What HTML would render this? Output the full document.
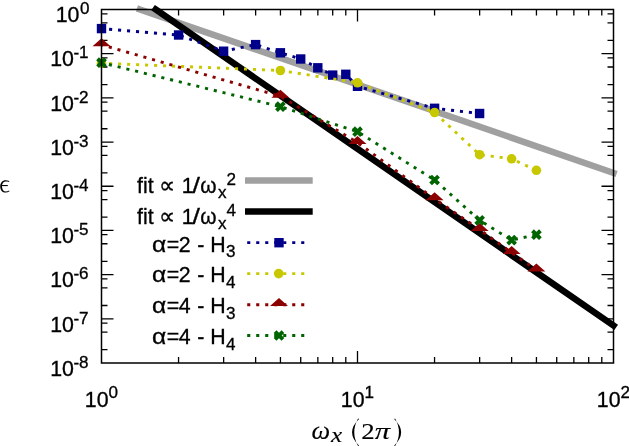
<!DOCTYPE html>
<html><head><meta charset="utf-8"><title>chart</title>
<style>html,body{margin:0;padding:0;background:#fff;}body{width:629px;height:446px;overflow:hidden;}svg{display:block;will-change:transform;}text{font-family:"Liberation Sans",sans-serif;fill:#000;stroke:#000;stroke-width:0.32px;}.s{font-family:"Liberation Serif",serif;stroke-width:0.12px;}.i{font-style:italic;}</style>
</head><body>
<svg width="629" height="446" viewBox="0 0 629 446">
<rect width="629" height="446" fill="#fff"/>
<path d="M101.50 40.39h6M613.50 40.39h-6M101.50 22.80h6M613.50 22.80h-6M101.50 13.78h6M613.50 13.78h-6M101.50 53.69h12M613.50 53.69h-12M101.50 84.57h6M613.50 84.57h-6M101.50 66.99h6M613.50 66.99h-6M101.50 57.97h6M613.50 57.97h-6M101.50 97.88h12M613.50 97.88h-12M101.50 128.76h6M613.50 128.76h-6M101.50 111.18h6M613.50 111.18h-6M101.50 102.16h6M613.50 102.16h-6M101.50 142.06h12M613.50 142.06h-12M101.50 172.95h6M613.50 172.95h-6M101.50 155.36h6M613.50 155.36h-6M101.50 146.34h6M613.50 146.34h-6M101.50 186.25h12M613.50 186.25h-12M101.50 217.14h6M613.50 217.14h-6M101.50 199.55h6M613.50 199.55h-6M101.50 190.53h6M613.50 190.53h-6M101.50 230.44h12M613.50 230.44h-12M101.50 261.32h6M613.50 261.32h-6M101.50 243.74h6M613.50 243.74h-6M101.50 234.72h6M613.50 234.72h-6M101.50 274.62h12M613.50 274.62h-12M101.50 305.51h6M613.50 305.51h-6M101.50 287.93h6M613.50 287.93h-6M101.50 278.91h6M613.50 278.91h-6M101.50 318.81h12M613.50 318.81h-12M101.50 349.70h6M613.50 349.70h-6M101.50 332.11h6M613.50 332.11h-6M101.50 323.09h6M613.50 323.09h-6M178.56 363.00v-6M178.56 9.50v6M223.64 363.00v-6M223.64 9.50v6M255.63 363.00v-6M255.63 9.50v6M280.44 363.00v-6M280.44 9.50v6M300.71 363.00v-6M300.71 9.50v6M317.85 363.00v-6M317.85 9.50v6M332.69 363.00v-6M332.69 9.50v6M345.79 363.00v-6M345.79 9.50v6M357.50 363.00v-12M357.50 9.50v12M434.56 363.00v-6M434.56 9.50v6M479.64 363.00v-6M479.64 9.50v6M511.63 363.00v-6M511.63 9.50v6M536.44 363.00v-6M536.44 9.50v6M556.71 363.00v-6M556.71 9.50v6M573.85 363.00v-6M573.85 9.50v6M588.69 363.00v-6M588.69 9.50v6M601.79 363.00v-6M601.79 9.50v6" stroke="#000" stroke-width="1.3" fill="none"/>
<line x1="140" y1="9.5" x2="613.5" y2="172.9" stroke="#a0a0a0" stroke-width="6.5" stroke-linecap="square"/>
<line x1="155.7" y1="9.5" x2="613.5" y2="325.5" stroke="#000" stroke-width="6.5" stroke-linecap="square"/>
<polyline points="101.5,28.6 178.6,35.0 223.6,51.2 255.6,44.6 280.4,52.8 300.7,59.0 317.8,67.8 332.7,75.1 345.8,74.3 357.5,86.3 434.6,108.3 479.6,113.5" fill="none" stroke="#00008b" stroke-width="2.9" stroke-dasharray="3.1 5.9" stroke-dashoffset="1.4"/>
<rect x="96.8" y="23.9" width="9.4" height="9.4" fill="#00008b"/>
<rect x="173.9" y="30.3" width="9.4" height="9.4" fill="#00008b"/>
<rect x="218.9" y="46.5" width="9.4" height="9.4" fill="#00008b"/>
<rect x="250.9" y="39.9" width="9.4" height="9.4" fill="#00008b"/>
<rect x="275.7" y="48.1" width="9.4" height="9.4" fill="#00008b"/>
<rect x="296.0" y="54.3" width="9.4" height="9.4" fill="#00008b"/>
<rect x="313.1" y="63.1" width="9.4" height="9.4" fill="#00008b"/>
<rect x="328.0" y="70.4" width="9.4" height="9.4" fill="#00008b"/>
<rect x="341.1" y="69.6" width="9.4" height="9.4" fill="#00008b"/>
<rect x="352.8" y="81.6" width="9.4" height="9.4" fill="#00008b"/>
<rect x="429.9" y="103.6" width="9.4" height="9.4" fill="#00008b"/>
<rect x="474.9" y="108.8" width="9.4" height="9.4" fill="#00008b"/>
<polyline points="101.5,63.2 280.4,70.5 357.5,82.8 434.6,112.5 479.6,154.7 511.6,158.8 536.4,170.3" fill="none" stroke="#c8c800" stroke-width="2.9" stroke-dasharray="3.1 5.9" stroke-dashoffset="1.4"/>
<circle cx="101.5" cy="63.2" r="4.8" fill="#c8c800"/>
<circle cx="280.4" cy="70.5" r="4.8" fill="#c8c800"/>
<circle cx="357.5" cy="82.8" r="4.8" fill="#c8c800"/>
<circle cx="434.6" cy="112.5" r="4.8" fill="#c8c800"/>
<circle cx="479.6" cy="154.7" r="4.8" fill="#c8c800"/>
<circle cx="511.6" cy="158.8" r="4.8" fill="#c8c800"/>
<circle cx="536.4" cy="170.3" r="4.8" fill="#c8c800"/>
<polyline points="101.5,44.8 280.4,96.3 357.5,142.6 434.6,198.9 479.6,229.6 511.6,252.6 536.4,270.1" fill="none" stroke="#8b0000" stroke-width="2.9" stroke-dasharray="3.1 5.9" stroke-dashoffset="1.4"/>
<path d="M101.5 38.2L110.5 46.2L92.5 46.2Z" fill="#8b0000"/>
<path d="M280.4 89.7L289.4 97.7L271.4 97.7Z" fill="#8b0000"/>
<path d="M357.5 136.0L366.5 144.0L348.5 144.0Z" fill="#8b0000"/>
<path d="M434.6 192.3L443.6 200.3L425.6 200.3Z" fill="#8b0000"/>
<path d="M479.6 223.0L488.6 231.0L470.6 231.0Z" fill="#8b0000"/>
<path d="M511.6 246.0L520.6 254.0L502.6 254.0Z" fill="#8b0000"/>
<path d="M536.4 263.5L545.4 271.5L527.4 271.5Z" fill="#8b0000"/>
<polyline points="101.5,62.7 280.4,106.6 357.5,131.7 434.6,180.0 479.6,220.3 511.6,240.1 536.4,234.7" fill="none" stroke="#006400" stroke-width="2.9" stroke-dasharray="3.1 5.9" stroke-dashoffset="1.4"/>
<path d="M97.55 58.75l7.9 7.9M105.45 58.75l-7.9 7.9" stroke="#006400" stroke-width="3.9" fill="none"/>
<path d="M276.49 102.65l7.9 7.9M284.39 102.65l-7.9 7.9" stroke="#006400" stroke-width="3.9" fill="none"/>
<path d="M353.55 127.75l7.9 7.9M361.45 127.75l-7.9 7.9" stroke="#006400" stroke-width="3.9" fill="none"/>
<path d="M430.61 176.05l7.9 7.9M438.51 176.05l-7.9 7.9" stroke="#006400" stroke-width="3.9" fill="none"/>
<path d="M475.69 216.35l7.9 7.9M483.59 216.35l-7.9 7.9" stroke="#006400" stroke-width="3.9" fill="none"/>
<path d="M507.68 236.15l7.9 7.9M515.58 236.15l-7.9 7.9" stroke="#006400" stroke-width="3.9" fill="none"/>
<path d="M532.49 230.75l7.9 7.9M540.39 230.75l-7.9 7.9" stroke="#006400" stroke-width="3.9" fill="none"/>
<line x1="245" y1="180.6" x2="312.7" y2="180.6" stroke="#a0a0a0" stroke-width="6.5"/>
<line x1="245" y1="211.55" x2="312.7" y2="211.55" stroke="#000" stroke-width="6.5"/>
<line x1="247.2" y1="242.65" x2="304.5" y2="242.65" stroke="#00008b" stroke-width="2.9" stroke-dasharray="3.1 5.9"/>
<rect x="274.3" y="238.0" width="9.4" height="9.4" fill="#00008b"/>
<line x1="247.2" y1="273.6" x2="304.5" y2="273.6" stroke="#c8c800" stroke-width="2.9" stroke-dasharray="3.1 5.9"/>
<circle cx="278.7" cy="273.6" r="4.8" fill="#c8c800"/>
<line x1="247.2" y1="304.7" x2="304.5" y2="304.7" stroke="#8b0000" stroke-width="2.9" stroke-dasharray="3.1 5.9"/>
<path d="M279.0 298.1L288.0 306.1L270.0 306.1Z" fill="#8b0000"/>
<line x1="247.2" y1="335.5" x2="304.5" y2="335.5" stroke="#006400" stroke-width="2.9" stroke-dasharray="3.1 5.9"/>
<path d="M275.05 331.55l7.9 7.9M282.95 331.55l-7.9 7.9" stroke="#006400" stroke-width="3.9" fill="none"/>
<rect x="101.5" y="9.5" width="512" height="353.5" fill="none" stroke="#000" stroke-width="1.5"/>
<text x="55.71" y="22.20" font-size="21.33">10</text>
<text x="79.93" y="14.20" font-size="17.07">0</text>
<text x="50.21" y="66.39" font-size="21.33">10</text>
<text x="73.54" y="58.39" font-size="17.07">-</text>
<text x="78.94" y="58.39" font-size="17.07">1</text>
<text x="50.21" y="110.58" font-size="21.33">10</text>
<text x="73.54" y="102.58" font-size="17.07">-</text>
<text x="78.94" y="102.58" font-size="17.07">2</text>
<text x="50.21" y="154.76" font-size="21.33">10</text>
<text x="73.54" y="146.76" font-size="17.07">-</text>
<text x="78.94" y="146.76" font-size="17.07">3</text>
<text x="50.21" y="198.95" font-size="21.33">10</text>
<text x="73.54" y="190.95" font-size="17.07">-</text>
<text x="78.94" y="190.95" font-size="17.07">4</text>
<text x="50.21" y="243.14" font-size="21.33">10</text>
<text x="73.54" y="235.14" font-size="17.07">-</text>
<text x="78.94" y="235.14" font-size="17.07">5</text>
<text x="50.21" y="287.32" font-size="21.33">10</text>
<text x="73.54" y="279.32" font-size="17.07">-</text>
<text x="78.94" y="279.32" font-size="17.07">6</text>
<text x="50.21" y="331.51" font-size="21.33">10</text>
<text x="73.54" y="323.51" font-size="17.07">-</text>
<text x="78.94" y="323.51" font-size="17.07">7</text>
<text x="50.21" y="375.70" font-size="21.33">10</text>
<text x="73.54" y="367.70" font-size="17.07">-</text>
<text x="78.94" y="367.70" font-size="17.07">8</text>
<text x="84.83" y="406.50" font-size="21.33">10</text>
<text x="108.39" y="398.20" font-size="17.07">0</text>
<text x="340.83" y="406.50" font-size="21.33">10</text>
<text x="364.39" y="398.20" font-size="17.07">1</text>
<text x="596.83" y="406.50" font-size="21.33">10</text>
<text x="620.39" y="398.20" font-size="17.07">2</text>
<text x="137.00" y="192.70" font-size="21.33">fit</text>
<text font-size="21.33" transform="translate(159.27 192.70) scale(1.061 1.075)">∝</text>
<text x="181.68" y="192.70" font-size="21.33">1</text>
<text font-size="21.33" transform="translate(192.60 192.70) scale(1.249 1.000)">/</text>
<text font-size="21.33" transform="translate(200.15 192.70) scale(0.979 1.000)">ω</text>
<text x="218.11" y="198.10" font-size="17.07">x</text>
<text x="226.44" y="184.90" font-size="17.07">2</text>
<text x="137.00" y="223.60" font-size="21.33">fit</text>
<text font-size="21.33" transform="translate(159.27 223.60) scale(1.061 1.075)">∝</text>
<text x="181.68" y="223.60" font-size="21.33">1</text>
<text font-size="21.33" transform="translate(192.60 223.60) scale(1.249 1.000)">/</text>
<text font-size="21.33" transform="translate(200.15 223.60) scale(0.979 1.000)">ω</text>
<text x="218.11" y="229.00" font-size="17.07">x</text>
<text x="226.44" y="215.80" font-size="17.07">4</text>
<text font-size="21.33" transform="translate(152.07 251.50) scale(1.155 1.000)">α</text>
<text x="166.86" y="251.50" font-size="21.33">=</text>
<text x="178.83" y="251.50" font-size="21.33">2</text>
<text x="197.25" y="251.50" font-size="21.33">-</text>
<text x="210.35" y="251.50" font-size="21.33">H</text>
<text x="226.05" y="256.70" font-size="17.07">3</text>
<text font-size="21.33" transform="translate(152.07 282.47) scale(1.155 1.000)">α</text>
<text x="166.86" y="282.47" font-size="21.33">=</text>
<text x="178.83" y="282.47" font-size="21.33">2</text>
<text x="197.25" y="282.47" font-size="21.33">-</text>
<text x="210.35" y="282.47" font-size="21.33">H</text>
<text x="226.05" y="287.67" font-size="17.07">4</text>
<text font-size="21.33" transform="translate(152.07 313.44) scale(1.155 1.000)">α</text>
<text x="166.86" y="313.44" font-size="21.33">=</text>
<text x="178.83" y="313.44" font-size="21.33">4</text>
<text x="197.25" y="313.44" font-size="21.33">-</text>
<text x="210.35" y="313.44" font-size="21.33">H</text>
<text x="226.05" y="318.64" font-size="17.07">3</text>
<text font-size="21.33" transform="translate(152.07 344.41) scale(1.155 1.000)">α</text>
<text x="166.86" y="344.41" font-size="21.33">=</text>
<text x="178.83" y="344.41" font-size="21.33">4</text>
<text x="197.25" y="344.41" font-size="21.33">-</text>
<text x="210.35" y="344.41" font-size="21.33">H</text>
<text x="226.05" y="349.61" font-size="17.07">4</text>
<text font-size="27" class="s i" transform="translate(311.42 438.80) scale(0.978 0.898)">ω</text>
<text font-size="20" class="s i" transform="translate(331.01 442.40) scale(1.259 1.002)">x</text>
<text font-size="23.4" class="s" transform="translate(361.22 438.80) scale(1.151 1.000)">2</text>
<text font-size="27" class="s i" transform="translate(374.64 438.80) scale(1.136 0.861)">π</text>
<path d="M9.3 180.9C8 180.45 6.8 180.3 5.6 180.3C2.4 180.3 0.2 182.9 0.2 186.4C0.2 190 2.4 192.6 5.6 192.6C7 192.6 8.3 192.2 9.5 191.3L9.1 190.45C8 191.2 7 191.45 5.9 191.45C3.6 191.45 2.0 189.5 2.0 186.4C2.0 183.3 3.6 181.45 5.9 181.45C7 181.45 8 181.6 9.1 182Z" fill="#000"/>
<path d="M1.6 185.55H7.8" fill="none" stroke="#000" stroke-width="1.1"/>
<path d="M359.1 419.0Q345.0 432.3 359.1 445.7L358.1 446.1Q350.4 432.3 358.1 418.6Z" fill="#000"/>
<path d="M394.1 419.0Q408.2 432.3 394.1 445.7L395.1 446.1Q402.8 432.3 395.1 418.6Z" fill="#000"/>
</svg></body></html>
